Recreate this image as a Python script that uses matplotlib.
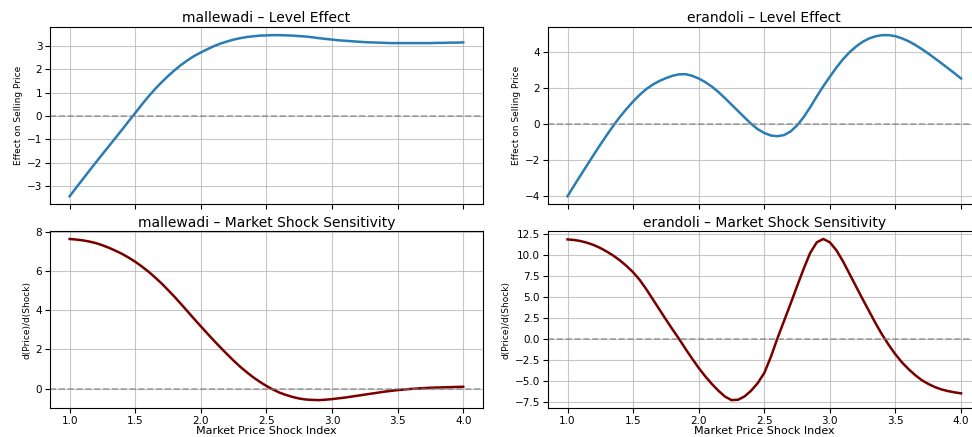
"""
Level effect and market shock sensitivity for two markets
"""
import numpy as np
import matplotlib
matplotlib.use('Agg')
import matplotlib.pyplot as plt
from matplotlib.ticker import MultipleLocator

# shock index grid (values read at 0.05 steps)
shock_index = [1.00, 1.05, 1.10, 1.15, 1.20, 1.25, 1.30, 1.35, 1.40, 1.45,
               1.50, 1.55, 1.60, 1.65, 1.70, 1.75, 1.80, 1.85, 1.90, 1.95,
               2.00, 2.05, 2.10, 2.15, 2.20, 2.25, 2.30, 2.35, 2.40, 2.45,
               2.50, 2.55, 2.60, 2.65, 2.70, 2.75, 2.80, 2.85, 2.90, 2.95,
               3.00, 3.05, 3.10, 3.15, 3.20, 3.25, 3.30, 3.35, 3.40, 3.45,
               3.50, 3.55, 3.60, 3.65, 3.70, 3.75, 3.80, 3.85, 3.90, 3.95,
               4.00]

markets = ['mallewadi', 'erandoli']

# level effect on selling price
mallewadi_level = [-3.43, -3.06, -2.70, -2.34, -1.98, -1.63, -1.28, -0.93, -0.58, -0.22,
                   0.13, 0.49, 0.83, 1.15, 1.44, 1.71, 1.96, 2.19, 2.39, 2.57,
                   2.72, 2.86, 2.99, 3.10, 3.19, 3.27, 3.33, 3.38, 3.41, 3.44,
                   3.45, 3.46, 3.46, 3.45, 3.44, 3.42, 3.40, 3.37, 3.33, 3.30,
                   3.27, 3.24, 3.22, 3.20, 3.18, 3.16, 3.15, 3.14, 3.13, 3.12,
                   3.12, 3.12, 3.12, 3.12, 3.12, 3.12, 3.13, 3.13, 3.14, 3.14,
                   3.15]
erandoli_level = [-4.00, -3.41, -2.83, -2.26, -1.69, -1.13, -0.59, -0.07, 0.42, 0.86,
                  1.27, 1.64, 1.96, 2.21, 2.41, 2.57, 2.70, 2.78, 2.79, 2.70,
                  2.55, 2.35, 2.10, 1.80, 1.46, 1.10, 0.74, 0.38, 0.03, -0.27,
                  -0.48, -0.62, -0.66, -0.60, -0.40, -0.06, 0.40, 0.95, 1.55, 2.12,
                  2.65, 3.16, 3.62, 4.01, 4.33, 4.59, 4.78, 4.90, 4.96, 4.96,
                  4.90, 4.78, 4.62, 4.42, 4.19, 3.94, 3.67, 3.40, 3.12, 2.84,
                  2.55]

# d(Price)/d(Shock)
mallewadi_sens = [7.63, 7.60, 7.56, 7.50, 7.42, 7.31, 7.18, 7.03, 6.87, 6.68,
                  6.47, 6.23, 5.97, 5.68, 5.37, 5.03, 4.68, 4.31, 3.93, 3.55,
                  3.18, 2.81, 2.45, 2.10, 1.76, 1.43, 1.12, 0.84, 0.58, 0.35,
                  0.14, -0.04, -0.20, -0.32, -0.42, -0.50, -0.55, -0.57, -0.58, -0.56,
                  -0.53, -0.49, -0.45, -0.40, -0.35, -0.30, -0.25, -0.20, -0.15, -0.11,
                  -0.07, -0.04, -0.01, 0.01, 0.03, 0.05, 0.06, 0.07, 0.08, 0.09,
                  0.10]
erandoli_sens = [11.85, 11.78, 11.65, 11.45, 11.18, 10.83, 10.40, 9.92, 9.35, 8.70,
                 7.95, 7.05, 5.95, 4.75, 3.55, 2.35, 1.18, 0.05, -1.15, -2.30,
                 -3.40, -4.40, -5.30, -6.10, -6.80, -7.22, -7.18, -6.78, -6.10, -5.20,
                 -4.00, -2.10, 0.10, 2.15, 4.20, 6.30, 8.35, 10.25, 11.50, 11.90,
                 11.50, 10.55, 9.25, 7.75, 6.25, 4.75, 3.30, 1.85, 0.50, -0.70,
                 -1.80, -2.75, -3.55, -4.25, -4.85, -5.30, -5.67, -5.95, -6.15, -6.30,
                 -6.42]

levels = [mallewadi_level, erandoli_level]
sens = [mallewadi_sens, erandoli_sens]

fig, axes = plt.subplots(2, 2, figsize=(9.72, 4.37), dpi=100, sharex='col')
fig.subplots_adjust(left=0.0514, right=1.009, top=0.938, bottom=0.066,
                    hspace=0.15, wspace=0.15)

for j, name in enumerate(markets):
    ax = axes[0, j]
    ax.plot(shock_index, levels[j], color='#2a7db4', lw=1.8)
    ax.axhline(0, color='gray', ls='--', lw=1.2, alpha=0.7)
    ax.set_title(name + ' \u2013 Level Effect', fontsize=10, pad=4)
    ax.set_ylabel('Effect on Selling Price', fontsize=6.5, labelpad=3)
    ax.grid(True, alpha=0.7)
    ax.tick_params(labelsize=7.5, pad=2)

    ax = axes[1, j]
    ax.plot(shock_index, sens[j], color='#7a0000', lw=1.8)
    ax.axhline(0, color='gray', ls='--', lw=1.2, alpha=0.7)
    ax.set_title(name + ' \u2013 Market Shock Sensitivity', fontsize=10, pad=3)
    ax.set_ylabel('d(Price)/d(Shock)', fontsize=6.5, labelpad=3)
    ax.set_xlabel('Market Price Shock Index', fontsize=8, labelpad=0)
    ax.grid(True, alpha=0.7)
    ax.tick_params(labelsize=7.5, pad=2)

axes[1, 1].yaxis.set_major_locator(MultipleLocator(2.5))

plt.savefig('out.png', dpi=100)
